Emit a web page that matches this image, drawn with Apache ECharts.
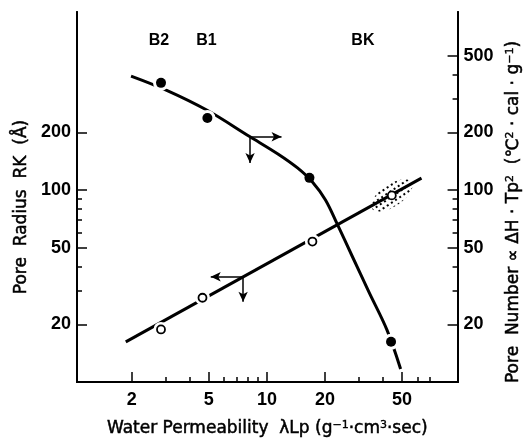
<!DOCTYPE html>
<html>
<head>
<meta charset="utf-8">
<script src="https://cdn.jsdelivr.net/npm/echarts@6/dist/echarts.min.js"></script>
<style>html,body{margin:0;padding:0;background:#fff;}#chart{width:530px;height:443px;}</style>
</head>
<body>
<div id="chart"></div>
<script>
// ---- data ----
const xTicksMajor = [2, 5, 10, 20, 50];
const xTicksMinor = [3, 4, 6, 7, 8, 9, 30, 40, 60, 70];
const yLeftMajor = [20, 50, 100, 200];
const yLeftMinor = [30, 40, 60, 70, 80, 90];
const yRightMajor = [20, 50, 100, 200, 500];
const yRightMinor = [30, 40, 60, 70, 80, 90, 300, 400];

const numberX = [2.83, 4.92, 16.6, 43.9];      // filled circles (Pore Number, right axis)
const numberY = [363, 238, 116, 16.2];
const radiusX = [2.83, 4.64, 17.2, 44.3];      // open circles (Pore Radius, left axis)
const radiusY = [18.8, 27.5, 54, 94];

const numberCurveX = [1.98, 2.99, 4.88, 8.18, 11.4, 14.4, 17.2, 20.1, 23.1, 27.6, 33.7, 41.8, 49.2];
const numberCurveY = [394, 334, 262, 190, 154.6, 130.7, 110.5, 89.0, 66.7, 45.4, 29.5, 18.7, 11.7];
const radiusLineX = [1.86, 63.1];
const radiusLineY = [16.2, 115.6];

const numberArrowOrigin = [8.18, 190];
const numberArrowEnds = [[11.9, 190], [8.18, 138.7]];
const radiusArrowOrigin = [7.53, 35.4];
const radiusArrowEnds = [[5.12, 35.4], [7.53, 26.2]];

const groupLabels = ['B2', 'B1', 'BK'];
const groupLabelX = [2.76, 4.87, 31.4];
const groupLabelY = [600, 600, 600];

const xRange = [1.04, 97];
const yRange = [10, 850];

// ---- styles ----
const FONT = 'Liberation Sans';
const TITLE_FONT = 'DejaVu Sans';
const BLACK = '#000';
const BLOB_SIZE = [48, 22];

function dotPattern() {
  const c = document.createElement('canvas');
  c.width = 5; c.height = 5;
  const g = c.getContext('2d');
  g.fillStyle = '#000';
  g.fillRect(0, 0, 2, 2);
  return c;
}

function zip(xs, ys) { return xs.map((x, i) => [x, ys[i]]); }

const titleStyle = {
  color: BLACK, fontFamily: TITLE_FONT, fontWeight: 'normal', fontSize: 17,
  textBorderColor: BLACK, textBorderWidth: 0.5,
  rich: {
    s: { fontFamily: TITLE_FONT, fontSize: 11, color: BLACK, verticalAlign: 'top', textBorderColor: BLACK, textBorderWidth: 0.4 }
  }
};

function xAxisDef(major, ticks, len) {
  return {
    type: 'log', logBase: 10, min: xRange[0], max: xRange[1], position: 'bottom',
    axisLine: { show: true, onZero: false, lineStyle: { color: BLACK, width: 2 } },
    axisTick: { show: true, inside: true, length: len, customValues: ticks, lineStyle: { color: BLACK, width: 1.5 } },
    axisLabel: major ? { show: true, customValues: ticks, color: BLACK, fontFamily: FONT, fontWeight: 'bold', fontSize: 18, margin: 9 } : { show: false },
    splitLine: { show: false }, minorTick: { show: false },
    name: major ? 'Water Permeability  λLp (g{s|−1}·cm{s|3}·sec)' : '',
    nameLocation: 'middle', nameGap: 38,
    nameTextStyle: titleStyle
  };
}
function yAxisDef(pos, major, ticks, len, name, pad, gap) {
  return {
    type: 'log', logBase: 10, min: yRange[0], max: yRange[1], position: pos,
    axisLine: { show: true, onZero: false, lineStyle: { color: BLACK, width: 2 } },
    axisTick: { show: true, inside: true, length: len, customValues: ticks, lineStyle: { color: BLACK, width: 1.5 } },
    axisLabel: major ? { show: true, customValues: ticks, color: BLACK, fontFamily: FONT, fontWeight: 'bold', fontSize: 18, margin: 6 } : { show: false },
    splitLine: { show: false }, minorTick: { show: false },
    name: name, nameLocation: 'middle', nameRotate: 90, nameGap: gap,
    nameTextStyle: Object.assign({}, titleStyle, { padding: pad })
  };
}

const chart = echarts.init(document.getElementById('chart'), null, { renderer: 'canvas' });
const option = {
  animation: false,
  backgroundColor: '#fff',
  grid: { left: 77, right: 68, top: 12, bottom: 61, containLabel: false },
  xAxis: [
    xAxisDef(true, xTicksMajor, 10),
    xAxisDef(false, xTicksMinor, 5)
  ],
  yAxis: [
    yAxisDef('left', true, yLeftMajor, 10, 'Pore  Radius  RK  (Å)', [0, 20, 0, 0], 40),
    yAxisDef('right', true, yRightMajor, 10, 'Pore  Number ∝ ΔH · Tp{s|2}  (℃{s|2} · cal · g{s|−1})', [0, 30, 0, 0], 42),
    yAxisDef('left', false, yLeftMinor, 5, '', 0, 40),
    yAxisDef('right', false, yRightMinor, 5, '', 0, 40)
  ],
  series: [
    {
      type: 'scatter', xAxisIndex: 0, yAxisIndex: 0, z: 1, silent: true,
      data: [[radiusX[3], radiusY[3]]],
      symbol: 'circle', symbolSize: BLOB_SIZE, symbolRotate: 34,
      itemStyle: {
        color: { image: dotPattern(), repeat: 'repeat', scaleX: 2 / BLOB_SIZE[0], scaleY: 2 / BLOB_SIZE[1] },
        opacity: 1
      }
    },
    {
      type: 'line', xAxisIndex: 0, yAxisIndex: 0, z: 2, silent: true,
      data: zip(radiusLineX, radiusLineY), showSymbol: false, symbol: 'none',
      lineStyle: { color: BLACK, width: 3 },
      markLine: {
        silent: true, symbol: ['none', 'arrow'], symbolSize: [7, 10],
        lineStyle: { color: BLACK, width: 1.5, type: 'solid' }, label: { show: false },
        data: radiusArrowEnds.map(e => [{ coord: radiusArrowOrigin }, { coord: e }])
      }
    },
    {
      type: 'line', xAxisIndex: 0, yAxisIndex: 1, z: 2, silent: true, smooth: 0.35,
      data: zip(numberCurveX, numberCurveY), showSymbol: false, symbol: 'none',
      lineStyle: { color: BLACK, width: 3 },
      markLine: {
        silent: true, symbol: ['none', 'arrow'], symbolSize: [7, 10],
        lineStyle: { color: BLACK, width: 1.5, type: 'solid' }, label: { show: false },
        data: numberArrowEnds.map(e => [{ coord: numberArrowOrigin }, { coord: e }])
      }
    },
    {
      type: 'scatter', xAxisIndex: 1, yAxisIndex: 2, z: 3, silent: true,
      data: zip(radiusX, radiusY), symbol: 'circle',
      symbolSize: (v, p) => (p.dataIndex === 3 ? 0 : 15),
      itemStyle: { color: '#fff', opacity: 1 }
    },
    {
      type: 'scatter', xAxisIndex: 1, yAxisIndex: 3, z: 3, silent: true,
      data: zip(numberX, numberY), symbol: 'circle',
      symbolSize: (v, p) => (p.dataIndex === 2 ? 0 : 16),
      itemStyle: { color: '#fff', opacity: 1 }
    },
    {
      type: 'scatter', xAxisIndex: 0, yAxisIndex: 0, z: 4, silent: true,
      data: zip(radiusX, radiusY), symbol: 'circle', symbolSize: 8,
      itemStyle: { color: '#fff', borderColor: BLACK, borderWidth: 1.8, opacity: 1 }
    },
    {
      type: 'scatter', xAxisIndex: 0, yAxisIndex: 1, z: 4, silent: true,
      data: zip(numberX, numberY), symbol: 'circle', symbolSize: 10,
      itemStyle: { color: BLACK, opacity: 1 }
    },
    {
      type: 'scatter', xAxisIndex: 0, yAxisIndex: 0, z: 5, silent: true,
      data: groupLabels.map((n, i) => ({ name: n, value: [groupLabelX[i], groupLabelY[i]] })),
      symbolSize: 0, itemStyle: { opacity: 1 },
      label: { show: true, position: 'inside', formatter: '{b}', color: BLACK, fontFamily: FONT, fontWeight: 'bold', fontSize: 16, opacity: 1 }
    }
  ]
};
chart.setOption(option);
</script>
</body>
</html>
